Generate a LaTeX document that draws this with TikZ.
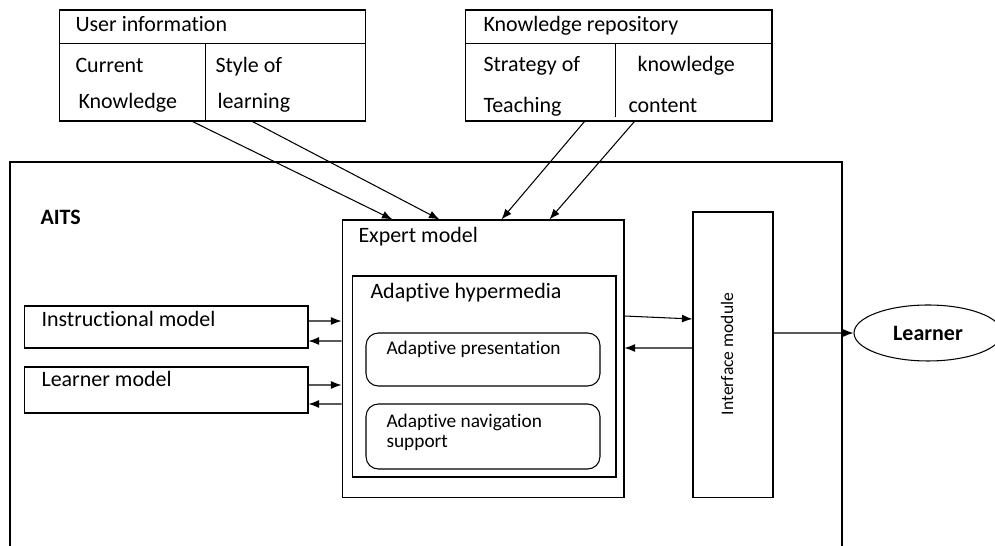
\documentclass[tikz,border=0pt]{standalone}
\usepackage{fontspec}
\setmainfont[Ligatures=NoCommon]{Carlito}
\usetikzlibrary{arrows.meta, shapes.geometric}

\begin{document}
\begin{tikzpicture}[x=0.02cm, y=-0.02cm, line width=0.6pt, >={Latex[length=6pt,width=4.5pt]},
    every node/.style={font=\fontsize{12.5}{14}\selectfont},
    box/.style={draw, rectangle, inner sep=0pt},
    rbox/.style={box, rounded corners=7pt},
    lbl/.style={anchor=base west, inner sep=0pt}]
    \useasboundingbox (0,0) rectangle (995,546);

    % the two sources on top
    \node[box, minimum width=6.14cm, minimum height=2.22cm] (uinfo) at (212.5,65.5) {};
    \node[box, minimum width=6.14cm, minimum height=2.22cm] (krepo) at (618.5,65.5) {};
    \draw ([yshift=-0.68cm]uinfo.north west) -- ([yshift=-0.68cm]uinfo.north east);
    \draw ([xshift=2.94cm,yshift=-0.68cm]uinfo.north west) -- ([xshift=2.94cm]uinfo.south west);
    \draw ([yshift=-0.68cm]krepo.north west) -- ([yshift=-0.68cm]krepo.north east);
    \draw ([xshift=3.02cm,yshift=-0.68cm]krepo.north west) -- ([xshift=3.02cm,yshift=0.1cm]krepo.south west);

    \node[lbl] (uinfo-t) at (75,32) {User information};
    \node[lbl] (cur1) at (75,73) {Current};
    \node[lbl] (cur2) at (78,109) {Knowledge};
    \node[lbl] (sty1) at (215,73) {Style of};
    \node[lbl] (sty2) at (217,109) {learning};
    \node[lbl] (krepo-t) at (483,32) {Knowledge repository};
    \node[lbl] (str1) at (483,72) {Strategy of};
    \node[lbl] (str2) at (483,113) {Teaching};
    \node[lbl] (con1) at (637,72) {knowledge};
    \node[lbl] (con2) at (628,113) {content};

    % AITS frame, open at the bottom
    \draw (10,560) -- (10,162) -- (842,162) -- (842,560);
    \node[lbl, font=\fontsize{12.5}{14}\selectfont\bfseries] (aits) at (40,225) {AITS};

    % expert model with adaptive hypermedia
    \node[box, minimum width=5.64cm, minimum height=5.56cm] (expert) at (483,359) {};
    \node[box, minimum width=5.28cm, minimum height=4.02cm] (hyper) at (484,376.5) {};
    \node[rbox, minimum width=4.68cm, minimum height=1.06cm] (present) at (483,359.5) {};
    \node[rbox, minimum width=4.68cm, minimum height=1.30cm] (navig) at (483,436.5) {};
    \node[lbl] (expert-t) at (358,243) {Expert model};
    \node[lbl] (hyper-t) at (370,299) {Adaptive hypermedia};
    \node[lbl, font=\fontsize{11}{13}\selectfont] (present-t) at (386,355) {Adaptive presentation};
    \node[lbl, font=\fontsize{11}{13}\selectfont] (navig-t1) at (386,428) {Adaptive navigation};
    \node[lbl, font=\fontsize{11}{13}\selectfont] (navig-t2) at (386,448) {support};

    % left models
    \node[box, minimum width=5.68cm, minimum height=0.84cm] (instr) at (166,327) {};
    \node[box, minimum width=5.68cm, minimum height=0.92cm] (lmodel) at (166,390) {};
    \node[lbl] (instr-t) at (41,327) {Instructional model};
    \node[lbl] (lmodel-t) at (41,387) {Learner model};

    % interface and learner
    \node[box, minimum width=1.6cm, minimum height=5.72cm] (iface) at (733,355) {};
    \node[rotate=90, font=\fontsize{10}{12}\selectfont] (iface-t) at (727,354) {Interface module};
    \node[draw, ellipse, minimum width=2.96cm, minimum height=1.12cm, inner sep=0pt,
          font=\fontsize{12.5}{14}\selectfont\bfseries] (learner) at (928,333) {Learner};

    % connectors
    \draw[->] ([xshift=2.68cm]uinfo.south west) -- ([xshift=1.02cm]expert.north west);
    \draw[->] ([xshift=3.88cm]uinfo.south west) -- ([xshift=1.96cm]expert.north west);
    \draw[->] ([xshift=2.40cm]krepo.south west) -- ([xshift=3.20cm]expert.north west);
    \draw[->] ([xshift=3.40cm]krepo.south west) -- ([xshift=4.16cm]expert.north west);

    \draw[->] ([yshift=0.12cm]instr.east) -- ([yshift=0.76cm]expert.west);
    \draw[->] ([yshift=0.36cm]expert.west) -- ([yshift=-0.28cm]instr.east);
    \draw[->] ([yshift=0.10cm]lmodel.east) -- ([yshift=-0.52cm]expert.west);
    \draw[->] ([yshift=-0.90cm]expert.west) -- ([yshift=-0.28cm]lmodel.east);

    \draw[->] ([yshift=0.86cm]expert.east) -- ([yshift=0.72cm]iface.west);
    \draw[->] ([yshift=0.14cm]iface.west) -- ([yshift=0.22cm]expert.east);
    \draw[->] ([yshift=0.44cm]iface.east) -- (learner.west);
\end{tikzpicture}
\end{document}
